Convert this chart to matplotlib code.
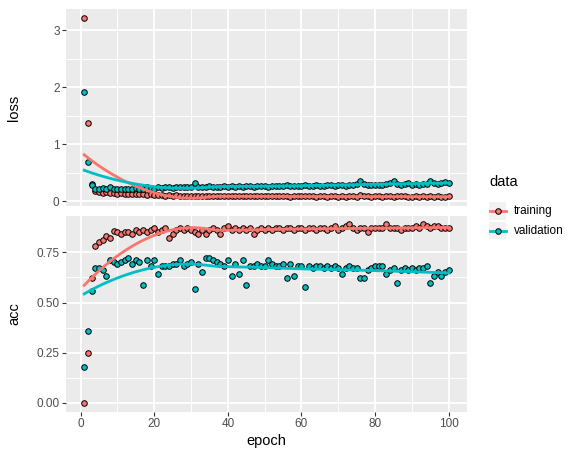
import numpy as np
import matplotlib.pyplot as plt
from matplotlib.patches import Rectangle
from matplotlib.lines import Line2D

plt.rcParams['font.family'] = ['Liberation Sans', 'DejaVu Sans']

epochs = np.arange(1, 101)

loss_train = [
    3.22, 1.38, 0.30, 0.17, 0.15, 0.14, 0.15, 0.14, 0.14, 0.13,
    0.14, 0.13, 0.13, 0.12, 0.13, 0.12, 0.12, 0.11, 0.12, 0.10,
    0.11, 0.10, 0.09, 0.10, 0.09, 0.10, 0.09, 0.09, 0.09, 0.09,
    0.08, 0.09, 0.09, 0.08, 0.09, 0.08, 0.09, 0.08, 0.08, 0.09,
    0.08, 0.08, 0.09, 0.08, 0.08, 0.09, 0.08, 0.08, 0.08, 0.08,
    0.08, 0.08, 0.09, 0.08, 0.08, 0.08, 0.07, 0.08, 0.09, 0.08,
    0.08, 0.08, 0.08, 0.07, 0.08, 0.08, 0.07, 0.08, 0.08, 0.07,
    0.08, 0.07, 0.08, 0.08, 0.07, 0.10, 0.08, 0.08, 0.07, 0.08,
    0.08, 0.07, 0.09, 0.08, 0.07, 0.09, 0.08, 0.08, 0.07, 0.07,
    0.08, 0.07, 0.08, 0.07, 0.09, 0.07, 0.08, 0.07, 0.07, 0.08]

loss_val = [
    1.92, 0.69, 0.28, 0.22, 0.21, 0.23, 0.22, 0.24, 0.21, 0.22,
    0.22, 0.21, 0.22, 0.21, 0.23, 0.22, 0.22, 0.24, 0.23, 0.21,
    0.24, 0.23, 0.24, 0.25, 0.23, 0.24, 0.24, 0.25, 0.24, 0.25,
    0.32, 0.25, 0.24, 0.25, 0.26, 0.25, 0.24, 0.25, 0.26, 0.25,
    0.26, 0.24, 0.26, 0.25, 0.26, 0.26, 0.25, 0.27, 0.26, 0.26,
    0.25, 0.27, 0.26, 0.27, 0.26, 0.28, 0.27, 0.26, 0.27, 0.27,
    0.28, 0.26, 0.27, 0.28, 0.27, 0.27, 0.28, 0.28, 0.27, 0.28,
    0.28, 0.26, 0.29, 0.28, 0.30, 0.35, 0.30, 0.28, 0.29, 0.28,
    0.29, 0.28, 0.30, 0.31, 0.35, 0.30, 0.29, 0.30, 0.31, 0.29,
    0.30, 0.29, 0.30, 0.30, 0.35, 0.32, 0.30, 0.31, 0.33, 0.31]

acc_train = [
    0.00, 0.25, 0.62, 0.78, 0.80, 0.81, 0.83, 0.82, 0.855, 0.85,
    0.84, 0.85, 0.85, 0.84, 0.86, 0.85, 0.86, 0.85, 0.86, 0.87,
    0.85, 0.86, 0.87, 0.82, 0.84, 0.86, 0.87, 0.86, 0.87, 0.86,
    0.85, 0.84, 0.86, 0.84, 0.86, 0.87, 0.86, 0.84, 0.87, 0.88,
    0.86, 0.87, 0.86, 0.87, 0.86, 0.87, 0.84, 0.86, 0.87, 0.86,
    0.87, 0.86, 0.87, 0.87, 0.86, 0.87, 0.87, 0.86, 0.87, 0.87,
    0.86, 0.87, 0.87, 0.86, 0.87, 0.87, 0.86, 0.87, 0.88, 0.86,
    0.87, 0.88, 0.89, 0.87, 0.86, 0.87, 0.87, 0.85, 0.87, 0.87,
    0.87, 0.87, 0.89, 0.87, 0.87, 0.87, 0.86, 0.87, 0.87, 0.87,
    0.88, 0.87, 0.89, 0.88, 0.87, 0.88, 0.88, 0.87, 0.87, 0.87]

acc_val = [
    0.18, 0.36, 0.56, 0.67, 0.67, 0.66, 0.63, 0.71, 0.70, 0.69,
    0.70, 0.71, 0.72, 0.69, 0.71, 0.70, 0.59, 0.71, 0.68, 0.71,
    0.64, 0.68, 0.68, 0.68, 0.69, 0.69, 0.71, 0.68, 0.69, 0.70,
    0.57, 0.69, 0.65, 0.72, 0.72, 0.71, 0.70, 0.69, 0.68, 0.71,
    0.63, 0.69, 0.64, 0.71, 0.59, 0.68, 0.68, 0.69, 0.68, 0.68,
    0.71, 0.69, 0.68, 0.68, 0.69, 0.62, 0.69, 0.63, 0.68, 0.68,
    0.58, 0.68, 0.67, 0.68, 0.68, 0.67, 0.68, 0.67, 0.68, 0.67,
    0.64, 0.67, 0.68, 0.67, 0.67, 0.62, 0.62, 0.66, 0.67, 0.68,
    0.68, 0.68, 0.64, 0.66, 0.67, 0.60, 0.66, 0.67, 0.66, 0.67,
    0.66, 0.67, 0.67, 0.68, 0.60, 0.63, 0.65, 0.63, 0.65, 0.66]

series = ['training', 'validation']
colors = {'training': '#F8766D', 'validation': '#00BFC4'}
panels = [
    ('loss', {'training': loss_train, 'validation': loss_val}, [0, 1, 2, 3], ['0', '1', '2', '3']),
    ('acc', {'training': acc_train, 'validation': acc_val}, [0, 0.25, 0.5, 0.75], ['0.00', '0.25', '0.50', '0.75']),
]


def loess(x, y, xs, span=0.75):
    # local quadratic fit with tricube weights (like geom_smooth default)
    x = np.asarray(x, float)
    y = np.asarray(y, float)
    q = int(np.floor(span * len(x)))
    out = []
    for x0 in xs:
        d = np.abs(x - x0)
        h = np.sort(d)[q - 1]
        w = np.clip(1 - (d / h) ** 3, 0, None) ** 3
        X = np.vstack([np.ones_like(x), x - x0, (x - x0) ** 2]).T
        sw = np.sqrt(w)
        beta = np.linalg.lstsq(X * sw[:, None], y * sw, rcond=None)[0]
        out.append(beta[0])
    return np.array(out)


W, H = 579, 457
fig = plt.figure(figsize=(W / 100, H / 100), dpi=100)


def px_axes(l, t, r, b):
    return fig.add_axes([l / W, 1 - b / H, (r - l) / W, (b - t) / H])


panel_px = [(66, 9, 467, 206), (66, 215.5, 467, 411.6)]
xs = np.linspace(1, 100, 80)
xlo, xhi = 1 - 0.05 * 99, 100 + 0.05 * 99

for (name, data, yt, ytl), box in zip(panels, panel_px):
    ax = px_axes(*box)
    ax.set_facecolor('#EBEBEB')
    for s in ax.spines.values():
        s.set_visible(False)
    allv = np.concatenate([data[k] for k in series])
    rng = allv.max() - allv.min()
    ax.set_ylim(allv.min() - 0.05 * rng, allv.max() + 0.05 * rng)
    ax.set_xlim(xlo, xhi)
    ax.set_xticks([0, 20, 40, 60, 80, 100])
    ax.set_xticks([10, 30, 50, 70, 90], minor=True)
    ax.set_yticks(yt)
    ax.set_yticklabels(ytl)
    ax.set_yticks([(a + b) / 2 for a, b in zip(yt[:-1], yt[1:])], minor=True)
    ax.grid(which='major', color='white', linewidth=1.36)
    ax.grid(which='minor', color='white', linewidth=0.68)
    ax.set_axisbelow(True)
    ax.tick_params(which='major', length=2.64, width=0.8, color='#333333',
                   labelsize=8.45, labelcolor='#4D4D4D', pad=2)
    ax.tick_params(which='minor', length=0)
    if name == 'loss':
        ax.tick_params(axis='x', which='major', length=0, labelbottom=False)
    for k in series:
        ax.scatter(epochs, data[k], s=16, facecolor=colors[k], edgecolor='black',
                   linewidth=0.7, zorder=3)
    for k in series:
        ax.plot(xs, loess(epochs, data[k], xs), color=colors[k], linewidth=2.0, zorder=4)
    cy = (box[1] + box[3]) / 2
    fig.text(14 / W, 1 - cy / H, name, rotation=90, ha='center', va='center',
             fontsize=10.56, color='black')

fig.text(266.5 / W, 1 - 441 / H, 'epoch', ha='center', va='center', fontsize=10.56)

# legend
lg = px_axes(480, 165, 579, 245)
lg.set_xlim(480, 579)
lg.set_ylim(245, 165)
lg.axis('off')
lg.text(489, 182, 'data', ha='left', va='center', fontsize=10.56)
for i, k in enumerate(series):
    cy = 211 + i * 19.5
    lg.add_patch(Rectangle((489, cy - 8.6), 17.3, 17.2, facecolor='#F2F2F2', edgecolor='none'))
    lg.add_line(Line2D([489.5, 506], [cy, cy], color=colors[k], linewidth=2.0))
    lg.plot([497.6], [cy], 'o', markersize=4.0, markerfacecolor=colors[k],
            markeredgecolor='black', markeredgewidth=0.7)
    lg.text(514, cy, k, ha='left', va='center', fontsize=8.45, color='black')

fig.savefig('out.png', dpi=100)
